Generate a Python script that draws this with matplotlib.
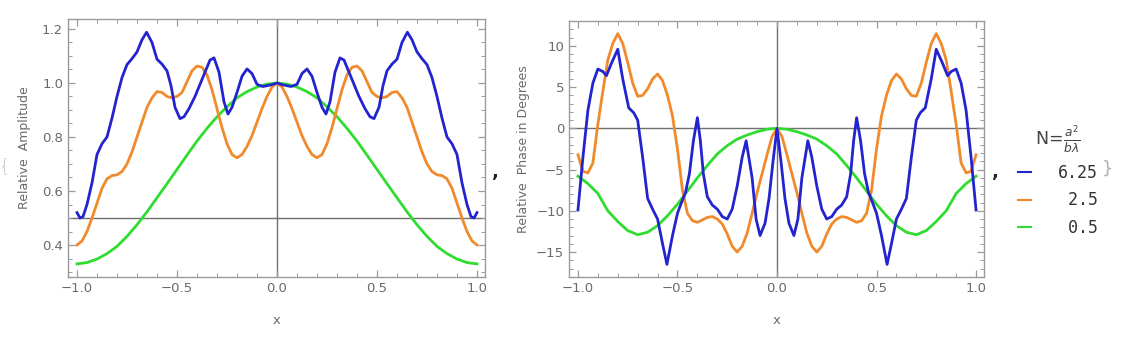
import numpy as np
import matplotlib
matplotlib.use("Agg")
from matplotlib import pyplot as plt
from matplotlib.ticker import MultipleLocator

# ---- data ----
# Relative amplitude, N = 6.25
amp_x_625 = [-1.00, -0.985, -0.97, -0.95, -0.925, -0.90, -0.875, -0.85, -0.825, -0.80,
             -0.775, -0.75, -0.725, -0.70, -0.675, -0.652, -0.625, -0.60, -0.575, -0.55,
             -0.53, -0.51, -0.485, -0.465, -0.44, -0.41, -0.385, -0.36, -0.335, -0.315,
             -0.29, -0.265, -0.245, -0.225, -0.20, -0.175, -0.15, -0.125, -0.10, -0.07,
             -0.03, 0.00, 0.03, 0.07, 0.10, 0.125, 0.15, 0.175, 0.20, 0.225,
             0.245, 0.265, 0.29, 0.315, 0.335, 0.36, 0.385, 0.41, 0.44, 0.465,
             0.485, 0.51, 0.53, 0.55, 0.575, 0.60, 0.625, 0.652, 0.675, 0.70,
             0.725, 0.75, 0.775, 0.80, 0.825, 0.85, 0.875, 0.90, 0.925, 0.95,
             0.97, 0.985, 1.00]
amp_y_625 = [0.520, 0.500, 0.505, 0.550, 0.630, 0.735, 0.775, 0.800, 0.870, 0.950,
             1.020, 1.068, 1.090, 1.115, 1.160, 1.188, 1.150, 1.088, 1.070, 1.045,
             0.990, 0.910, 0.868, 0.875, 0.905, 0.950, 0.995, 1.040, 1.085, 1.093,
             1.040, 0.930, 0.885, 0.910, 0.965, 1.025, 1.052, 1.035, 0.995, 0.987,
             0.993, 1.000, 0.993, 0.987, 0.995, 1.035, 1.052, 1.025, 0.965, 0.910,
             0.885, 0.930, 1.040, 1.093, 1.085, 1.040, 0.995, 0.950, 0.905, 0.875,
             0.868, 0.910, 0.990, 1.045, 1.070, 1.088, 1.150, 1.188, 1.160, 1.115,
             1.090, 1.068, 1.020, 0.950, 0.870, 0.800, 0.775, 0.735, 0.630, 0.550,
             0.505, 0.500, 0.520]

# Relative amplitude, N = 2.5 (x step 0.025)
amp_x_25 = np.linspace(-1, 1, 81)
amp_y_25 = [0.400, 0.415, 0.450, 0.500, 0.555, 0.610, 0.645, 0.657, 0.660, 0.672,
            0.700, 0.745, 0.800, 0.855, 0.910, 0.945, 0.968, 0.965, 0.950, 0.945,
            0.950, 0.965, 1.005, 1.045, 1.063, 1.058, 1.030, 0.975, 0.905, 0.835,
            0.775, 0.735, 0.723, 0.735, 0.765, 0.805, 0.855, 0.905, 0.950, 0.985,
            1.000,
            0.985, 0.950, 0.905, 0.855, 0.805, 0.765, 0.735, 0.723, 0.735, 0.775,
            0.835, 0.905, 0.975, 1.030, 1.058, 1.063, 1.045, 1.005, 0.965, 0.950,
            0.945, 0.950, 0.965, 0.968, 0.945, 0.910, 0.855, 0.800, 0.745, 0.700,
            0.672, 0.660, 0.657, 0.645, 0.610, 0.555, 0.500, 0.450, 0.415, 0.400]

# Relative amplitude, N = 0.5 (x step 0.05)
amp_x_05 = np.linspace(-1, 1, 41)
amp_y_05 = [0.330, 0.335, 0.348, 0.368, 0.395, 0.432, 0.475, 0.523, 0.575, 0.627,
            0.680, 0.733, 0.785, 0.832, 0.875, 0.912, 0.945, 0.968, 0.985, 0.996,
            1.000,
            0.996, 0.985, 0.968, 0.945, 0.912, 0.875, 0.832, 0.785, 0.733, 0.680,
            0.627, 0.575, 0.523, 0.475, 0.432, 0.395, 0.368, 0.348, 0.335, 0.330]

# Relative phase in degrees, N = 6.25
ph_x_625 = [-1.00, -0.975, -0.95, -0.925, -0.90, -0.875, -0.857, -0.83, -0.80, -0.775,
            -0.745, -0.72, -0.70, -0.675, -0.65, -0.625, -0.60, -0.575, -0.553, -0.525,
            -0.50, -0.48, -0.46, -0.44, -0.42, -0.40, -0.385, -0.37, -0.35, -0.325,
            -0.30, -0.275, -0.25, -0.225, -0.20, -0.175, -0.155, -0.125, -0.105, -0.085,
            -0.06, -0.04, -0.02,
            0.00, 0.02, 0.04, 0.06, 0.085, 0.105, 0.125, 0.155, 0.175, 0.20,
            0.225, 0.25, 0.275, 0.30, 0.325, 0.35, 0.37, 0.385, 0.40, 0.42,
            0.44, 0.46, 0.48, 0.50, 0.525, 0.553, 0.575, 0.60, 0.625, 0.65,
            0.675, 0.70, 0.72, 0.745, 0.775, 0.80, 0.83, 0.857, 0.875, 0.90,
            0.925, 0.95, 0.975, 1.00]
ph_y_625 = [-9.9, -3.5, 2.2, 5.5, 7.2, 6.9, 6.4, 8.0, 9.6, 6.0,
            2.5, 1.9, 1.0, -3.5, -8.5, -9.8, -11.0, -14.0, -16.5, -13.0,
            -10.3, -9.0, -7.8, -5.5, -1.5, 1.3, -1.5, -5.5, -8.3, -9.3,
            -9.8, -10.7, -11.0, -9.8, -7.0, -3.5, -1.5, -6.0, -11.0, -13.0,
            -11.5, -8.5, -4.0,
            0.0, -4.0, -8.5, -11.5, -13.0, -11.0, -6.0, -1.5, -3.5, -7.0,
            -9.8, -11.0, -10.7, -9.8, -9.3, -8.3, -5.5, -1.5, 1.3, -1.5,
            -5.5, -7.8, -9.0, -10.3, -13.0, -16.5, -14.0, -11.0, -9.8, -8.5,
            -3.5, 1.0, 1.9, 2.5, 6.0, 9.6, 8.0, 6.4, 6.9, 7.2,
            5.5, 2.2, -3.5, -9.9]

# Relative phase in degrees, N = 2.5 (x step 0.025)
ph_x_25 = np.linspace(-1, 1, 81)
ph_y_25 = [-3.2, -5.2, -5.4, -4.2, 0.5, 4.5, 8.3, 10.3, 11.5, 10.3,
           8.0, 5.5, 3.9, 4.0, 4.8, 6.0, 6.6, 5.8, 4.0, 1.5,
           -2.5, -7.5, -10.3, -11.2, -11.4, -11.1, -10.8, -10.7, -11.0, -11.6,
           -12.8, -14.3, -15.0, -14.3, -12.7, -10.3, -7.8, -5.5, -3.2, -1.0,
           0.0,
           -1.0, -3.2, -5.5, -7.8, -10.3, -12.7, -14.3, -15.0, -14.3, -12.8,
           -11.6, -11.0, -10.7, -10.8, -11.1, -11.4, -11.2, -10.3, -7.5, -2.5,
           1.5, 4.0, 5.8, 6.6, 6.0, 4.8, 4.0, 3.9, 5.5, 8.0,
           10.3, 11.5, 10.3, 8.3, 4.5, 0.5, -4.2, -5.4, -5.2, -3.2]

# Relative phase in degrees, N = 0.5 (x step 0.05)
ph_x_05 = np.linspace(-1, 1, 41)
ph_y_05 = [-5.8, -6.7, -7.9, -10.0, -11.3, -12.4, -12.9, -12.6, -11.8, -10.6,
           -9.2, -7.6, -6.0, -4.5, -3.1, -2.1, -1.3, -0.8, -0.4, -0.1,
           0.0,
           -0.1, -0.4, -0.8, -1.3, -2.1, -3.1, -4.5, -6.0, -7.6, -9.2,
           -10.6, -11.8, -12.6, -12.9, -12.4, -11.3, -10.0, -7.9, -6.7, -5.8]

n_labels = ["6.25", " 2.5", " 0.5"]
colors = ["#2323cf", "#f08a2c", "#2fdc2f"]

# ---- figure ----
fig = plt.figure(figsize=(11.23, 3.45), dpi=100)
frame_col = "#9a9a9a"
text_col = "#6a6a6a"

def style(ax):
    for s in ax.spines.values():
        s.set_color(frame_col)
        s.set_linewidth(1.0)
    ax.tick_params(which="both", direction="in", top=True, right=True,
                   color=frame_col, labelcolor=text_col, labelsize=9.5)
    ax.tick_params(which="major", length=5, width=0.9)
    ax.tick_params(which="minor", length=3, width=0.7)
    ax.xaxis.set_major_locator(MultipleLocator(0.5))
    ax.xaxis.set_minor_locator(MultipleLocator(0.1))
    ax.set_xlim(-1.045, 1.04)
    ax.set_xlabel("x", color=text_col, fontsize=9.5, labelpad=14)

ax1 = fig.add_axes([68 / 1123, 68 / 345, 417 / 1123, 258 / 345])
ax2 = fig.add_axes([569 / 1123, 68 / 345, 415 / 1123, 256 / 345])
style(ax1)
style(ax2)

ax1.axvline(0, color="#707070", lw=1.0, zorder=1)
ax1.axhline(0.5, color="#707070", lw=1.0, zorder=1)
ax2.axvline(0, color="#707070", lw=1.0, zorder=1)
ax2.axhline(0, color="#707070", lw=1.0, zorder=1)

lw = 2.0
amp_sets = [(amp_x_625, amp_y_625), (amp_x_25, amp_y_25), (amp_x_05, amp_y_05)]
ph_sets = [(ph_x_625, ph_y_625), (ph_x_25, ph_y_25), (ph_x_05, ph_y_05)]
order = [2, 1, 0]
handles = [None] * 3
for i in order:
    ax1.plot(amp_sets[i][0], amp_sets[i][1], color=colors[i], lw=lw,
             solid_joinstyle="round", zorder=3)
    handles[i], = ax2.plot(ph_sets[i][0], ph_sets[i][1], color=colors[i], lw=lw,
                           solid_joinstyle="round", zorder=3)

ax1.set_ylim(0.2815, 1.237)
ax1.yaxis.set_major_locator(MultipleLocator(0.2))
ax1.yaxis.set_minor_locator(MultipleLocator(0.05))
ax1.set_ylabel("Relative  Amplitude", color=text_col, fontsize=9, labelpad=8)

ax2.set_ylim(-18.03, 13.03)
ax2.yaxis.set_major_locator(MultipleLocator(5))
ax2.yaxis.set_minor_locator(MultipleLocator(1))
ax2.set_ylabel("Relative  Phase in Degrees", color=text_col, fontsize=9, labelpad=4)

# list punctuation of the Mathematica output
fig.text(5 / 1123, 1 - 166 / 345, "{", fontsize=13, color="#c8b8b8",
         ha="center", va="center", fontweight="light")
fig.text(495 / 1123, 1 - 172 / 345, ",", fontsize=13, color="#222222",
         ha="center", va="center", fontweight="bold")
fig.text(995 / 1123, 1 - 172 / 345, ",", fontsize=13, color="#222222",
         ha="center", va="center", fontweight="bold")
fig.text(1108 / 1123, 1 - 169 / 345, "}", fontsize=13, color="#b0b0b0",
         ha="center", va="center")

leg = fig.legend(handles, n_labels, loc="center", bbox_to_anchor=(1058 / 1123, 1 - 180 / 345),
                 frameon=False, handlelength=0.8, handletextpad=1.6, labelspacing=0.55,
                 prop={"family": "DejaVu Sans Mono", "size": 12},
                 title=r"$\mathrm{N}\!=\!\frac{a^2}{b\lambda}$",
                 title_fontproperties={"size": 12.5})
leg.get_title().set_color("#444444")
for t in leg.get_texts():
    t.set_color("#333333")
for h in leg.legend_handles:
    h.set_linewidth(1.5)

fig.savefig("out.png", dpi=100)
